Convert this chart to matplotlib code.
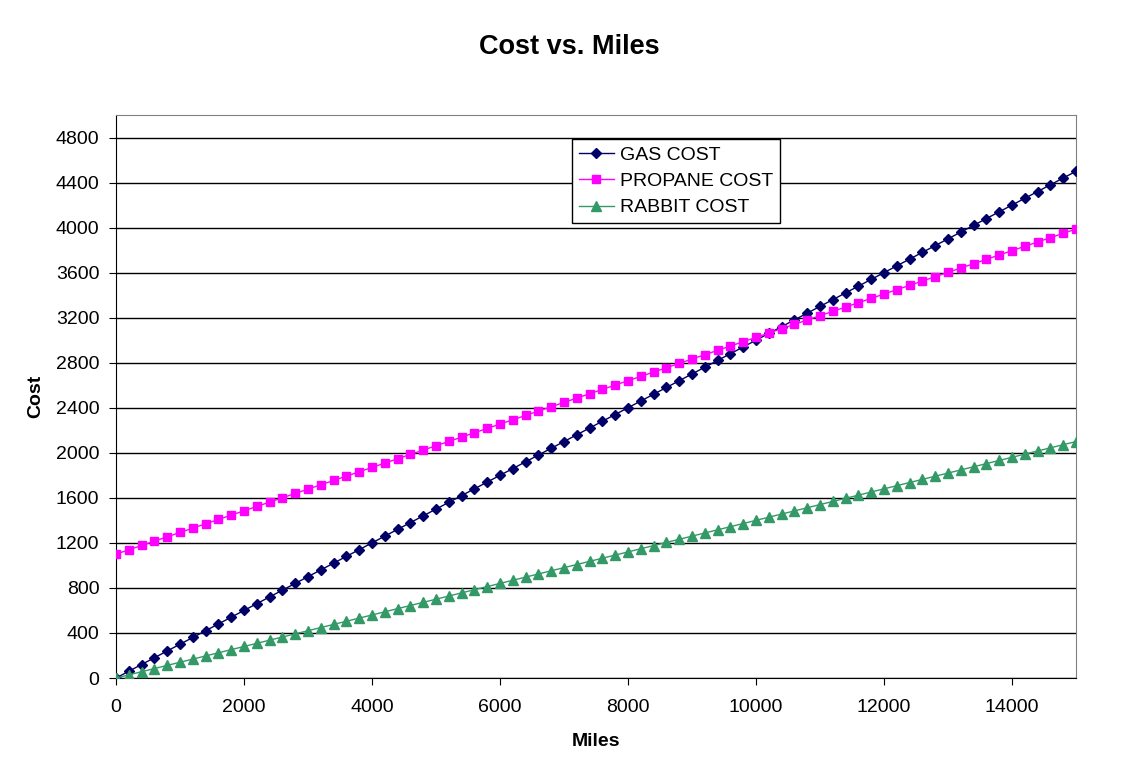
import matplotlib
matplotlib.use("Agg")
import matplotlib.pyplot as plt

plt.rcParams["font.family"] = ["Liberation Sans", "DejaVu Sans"]

miles = [0, 200, 400, 600, 800, 1000, 1200, 1400, 1600, 1800, 2000, 2200, 2400,
         2600, 2800, 3000, 3200, 3400, 3600, 3800, 4000, 4200, 4400, 4600, 4800,
         5000, 5200, 5400, 5600, 5800, 6000, 6200, 6400, 6600, 6800, 7000, 7200,
         7400, 7600, 7800, 8000, 8200, 8400, 8600, 8800, 9000, 9200, 9400, 9600,
         9800, 10000, 10200, 10400, 10600, 10800, 11000, 11200, 11400, 11600,
         11800, 12000, 12200, 12400, 12600, 12800, 13000, 13200, 13400, 13600,
         13800, 14000, 14200, 14400, 14600, 14800, 15000]

gas_cost = [0, 60, 120, 180, 240, 300, 360, 420, 480, 540, 600, 660, 720, 780,
            840, 900, 960, 1020, 1080, 1140, 1200, 1260, 1320, 1380, 1440, 1500,
            1560, 1620, 1680, 1740, 1800, 1860, 1920, 1980, 2040, 2100, 2160,
            2220, 2280, 2340, 2400, 2460, 2520, 2580, 2640, 2700, 2760, 2820,
            2880, 2940, 3000, 3060, 3120, 3180, 3240, 3300, 3360, 3420, 3480,
            3540, 3600, 3660, 3720, 3780, 3840, 3900, 3960, 4020, 4080, 4140,
            4200, 4260, 4320, 4380, 4440, 4500]

propane_cost = [1100, 1138.5, 1177, 1215.5, 1254, 1292.5, 1331, 1369.5, 1408,
                1446.5, 1485, 1523.5, 1562, 1600.5, 1639, 1677.5, 1716, 1754.5,
                1793, 1831.5, 1870, 1908.5, 1947, 1985.5, 2024, 2062.5, 2101,
                2139.5, 2178, 2216.5, 2255, 2293.5, 2332, 2370.5, 2409, 2447.5,
                2486, 2524.5, 2563, 2601.5, 2640, 2678.5, 2717, 2755.5, 2794,
                2832.5, 2871, 2909.5, 2948, 2986.5, 3025, 3063.5, 3102, 3140.5,
                3179, 3217.5, 3256, 3294.5, 3333, 3371.5, 3410, 3448.5, 3487,
                3525.5, 3564, 3602.5, 3641, 3679.5, 3718, 3756.5, 3795, 3833.5,
                3872, 3910.5, 3949, 3987.5]

rabbit_cost = [0, 28, 56, 84, 112, 140, 168, 196, 224, 252, 280, 308, 336, 364,
               392, 420, 448, 476, 504, 532, 560, 588, 616, 644, 672, 700, 728,
               756, 784, 812, 840, 868, 896, 924, 952, 980, 1008, 1036, 1064,
               1092, 1120, 1148, 1176, 1204, 1232, 1260, 1288, 1316, 1344, 1372,
               1400, 1428, 1456, 1484, 1512, 1540, 1568, 1596, 1624, 1652, 1680,
               1708, 1736, 1764, 1792, 1820, 1848, 1876, 1904, 1932, 1960, 1988,
               2016, 2044, 2072, 2100]

x_ticks = [0, 2000, 4000, 6000, 8000, 10000, 12000, 14000]
y_ticks = [0, 400, 800, 1200, 1600, 2000, 2400, 2800, 3200, 3600, 4000, 4400, 4800]

fig = plt.figure(figsize=(11.38, 7.78), dpi=100)
ax = fig.add_axes([0.1019, 0.1285, 0.8436, 0.7237])

ax.plot(miles, gas_cost, "-D", color="#000066", lw=1, markersize=5.5,
        label="GAS COST", zorder=3)
ax.plot(miles, propane_cost, "-s", color="#FF00FF", lw=1, markersize=6,
        label="PROPANE COST", zorder=3)
ax.plot(miles, rabbit_cost, "-^", color="#339966", lw=1, markersize=6.5,
        label="RABBIT COST", zorder=3)

ax.set_xlim(0, 15000)
ax.set_ylim(0, 5000)
ax.set_xticks(x_ticks)
ax.set_yticks(y_ticks)
ax.tick_params(labelsize=14, length=5, direction="out", color="black")
ax.tick_params(axis="y", pad=7)
ax.tick_params(axis="x", pad=10)
ax.grid(axis="y", color="black", lw=1)
ax.set_axisbelow(True)

for side in ("top", "right"):
    ax.spines[side].set_color("#808080")
for side in ("left", "bottom"):
    ax.spines[side].set_color("black")

ax.set_xlabel("Miles", fontsize=14, fontweight="bold", labelpad=12)
ax.set_ylabel("Cost", fontsize=14, fontweight="bold", labelpad=8)
fig.text(0.5, 1 - 47 / 778, "Cost vs. Miles", fontsize=19.5,
         fontweight="bold", ha="center", va="center")

leg = ax.legend(loc="upper left", bbox_to_anchor=(0.475, 0.957), fontsize=14,
                frameon=True, fancybox=False, framealpha=1, edgecolor="black",
                borderpad=0.35, labelspacing=0.45, handlelength=1.8,
                handletextpad=0.3, borderaxespad=0)
leg.get_frame().set_linewidth(1)

fig.savefig("out.png", dpi=100)
